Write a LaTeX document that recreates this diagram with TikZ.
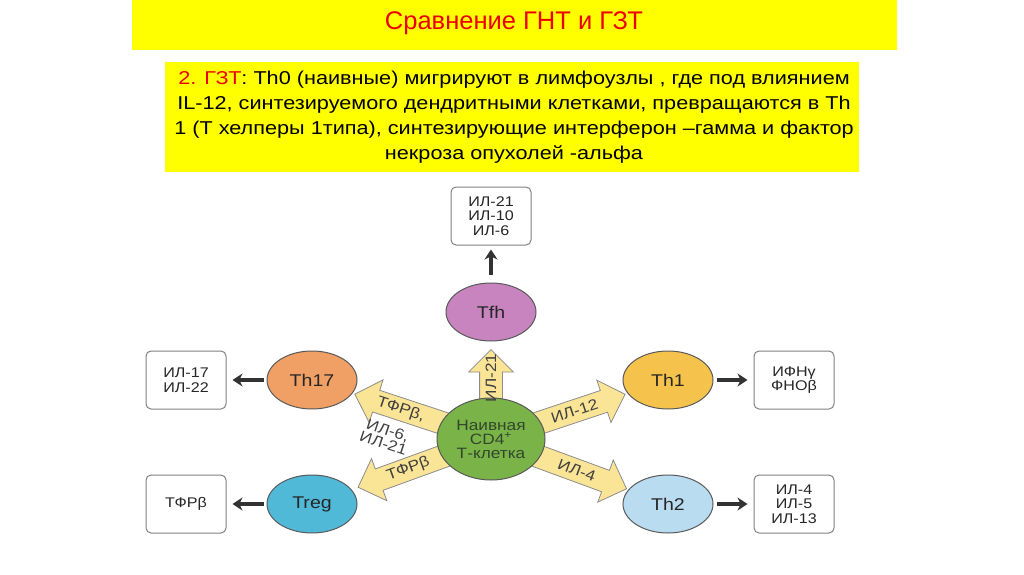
\documentclass[tikz,border=0pt]{standalone}
\usepackage{fontspec}
\setmainfont{Liberation Sans}
\newfontfamily\widefont{Liberation Sans}[FakeStretch=1.165]
\newfontfamily\diagfont{Liberation Sans}[FakeStretch=1.15]
\usepackage{xcolor}
\usepackage{tikz}
\usetikzlibrary{arrows.meta, positioning, shapes.geometric, shapes.arrows, calc, backgrounds}

\definecolor{slideyellow}{RGB}{255,255,0}
\definecolor{titlered}{RGB}{235,0,0}
\definecolor{arrowfill}{RGB}{250,228,150}
\definecolor{naivegreen}{RGB}{122,180,72}
\definecolor{naivetext}{RGB}{50,70,45}
\definecolor{tfhpurple}{RGB}{200,132,190}
\definecolor{thorange}{RGB}{240,160,100}
\definecolor{thyellow}{RGB}{245,195,75}
\definecolor{thblue}{RGB}{185,220,240}
\definecolor{tregblue}{RGB}{80,185,215}

\tikzset{
  cell/.style={ellipse, draw=black!65, line width=1pt, minimum width=90pt, minimum height=58pt, font=\diagfont\fontsize{17}{18}\selectfont, text=black!85},
  cytbox/.style={draw=black!50, rounded corners=5pt, fill=white, line width=1pt, minimum width=80pt, minimum height=58pt, align=center, font=\diagfont\fontsize{14}{14.5}\selectfont, text=black!85},
  fatarrow/.style={single arrow, draw=black!45, fill=arrowfill, line width=0.8pt, inner xsep=0pt, inner ysep=11pt, single arrow head extend=11pt, single arrow tip angle=90, anchor=tail},
  secr/.style={-{Stealth[length=10pt, width=13pt]}, line width=3.5pt, black!80, shorten <=3pt, shorten >=6pt},
  arrlabel/.style={font=\diagfont\fontsize{15}{14}\selectfont, text=black!75},
}

% fat arrow: name, from, towards, length
\newcommand\cytarrow[4]{%
  \path let \p1=($(#3)-(#2)$), \n1={atan2(\y1,\x1)} in
    node[fatarrow, rotate=\n1, minimum height=#4] (#1) at (#2) {};
}

\begin{document}
\begin{tikzpicture}[x=1pt, y=1pt, >=Stealth]
\useasboundingbox (0,0) rectangle (1024,574);
% Header
\fill[slideyellow] (132,524) rectangle (897,574);
\node[text=titlered, font=\fontsize{25.5}{28}\selectfont] (title) at (514,551) {Сравнение ГНТ и ГЗТ};
\fill[slideyellow] (165,402) rectangle (859,512);
\node[align=center, font=\widefont\fontsize{18.6}{25}\selectfont] (info) at (514,457)
  {{\color{titlered}2. ГЗТ}: Th0 (наивные) мигрируют в лимфоузлы , где под влиянием\\
   IL-12, синтезируемого дендритными клетками, превращаются в Th\\
   1 (Т хелперы 1типа), синтезирующие интерферон –гамма и фактор\\
   некроза опухолей -альфа};
% Cells
\node[cell, fill=naivegreen, minimum width=108pt, minimum height=82pt, align=center,
  font=\diagfont\fontsize{15}{14}\selectfont, text=naivetext] (naive) at (491,135)
  {Наивная\\CD4\textsuperscript{+}\\Т-клетка};
\node[cell, fill=tfhpurple] (tfh) at (491,262) {Tfh};
\node[cell, fill=thyellow] (th1) at (668,194) {Th1};
\node[cell, fill=thblue] (th2) at (668,70) {Th2};
\node[cell, fill=thorange] (th17) at (312,194) {Th17};
\node[cell, fill=tregblue] (treg) at (312,70) {Treg};
% Cytokine boxes
\node[cytbox, above=37pt of tfh] (btfh) {ИЛ-21\\ИЛ-10\\ИЛ-6};
\node[cytbox, right=40pt of th1] (bth1) {ИФНγ\\ФНОβ};
\node[cytbox, right=40pt of th2] (bth2) {ИЛ-4\\ИЛ-5\\ИЛ-13};
\node[cytbox, left=40pt of th17] (bth17) {ИЛ-17\\ИЛ-22};
\node[cytbox, left=40pt of treg] (btreg) {ТФРβ};
% Secretion
\draw[secr, shorten <=8pt, shorten >=4pt] (tfh) -- (btfh);
\draw[secr] (th1) -- (bth1);
\draw[secr] (th2) -- (bth2);
\draw[secr] (th17) -- (bth17);
\draw[secr] (treg) -- (btreg);
% Differentiation arrows
\begin{scope}[on background layer]
\cytarrow{atfh}{naive}{tfh}{89pt}
\cytarrow{ath1}{naive}{th1}{141pt}
\cytarrow{ath2}{naive}{th2}{144pt}
\cytarrow{ath17}{naive}{th17}{143pt}
\cytarrow{atreg}{naive}{treg}{141pt}
\end{scope}
\path (naive.center) -- (atfh.tip) node[pos=0.68, rotate=90, arrlabel] {ИЛ-21};
\path (naive.center) -- (ath1.tip) node[pos=0.62, sloped, arrlabel] {ИЛ-12};
\path (naive.center) -- (ath2.tip) node[pos=0.63, sloped, arrlabel] {ИЛ-4};
\path (naive.center) -- (ath17.tip) node[pos=0.66, sloped, arrlabel] {ТФРβ,}
  node[pos=0.7, sloped, below=15pt, align=center, arrlabel] {ИЛ-6,\\ИЛ-21};
\path (naive.center) -- (atreg.tip) node[pos=0.62, sloped, arrlabel] {ТФРβ};
\end{tikzpicture}
\end{document}
